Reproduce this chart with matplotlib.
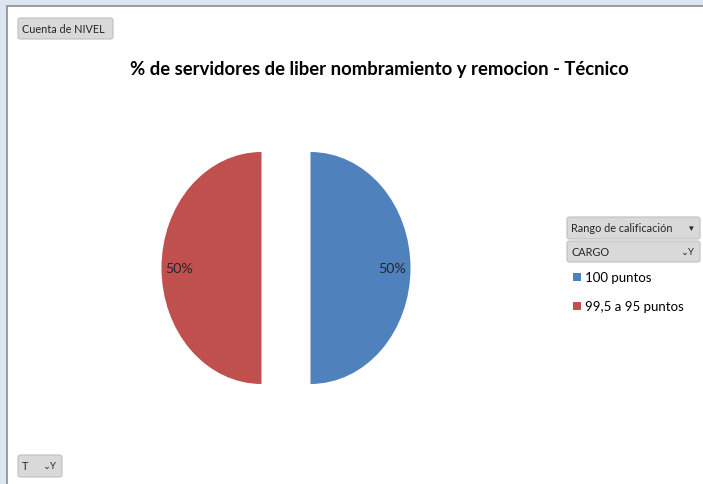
import matplotlib
matplotlib.use("Agg")
import matplotlib.pyplot as plt
from matplotlib.patches import FancyBboxPatch, Rectangle

categories = ["100 puntos", "99,5 a 95 puntos"]
values = [1, 1]
colors = ["#4F81BD", "#C0504D"]
title = "% de servidores de liber nombramiento y remocion - Técnico"

W, H = 703, 485
fig = plt.figure(figsize=(W / 100, H / 100), dpi=100)
fig.patch.set_facecolor("#DCE6F2")

def px(x, y):
    return x / W, 1 - y / H

# white chart area
fig.patches.append(Rectangle(px(7, H + 5), (W + 10) / W, (H - 2) / H,
                             transform=fig.transFigure, facecolor="white",
                             edgecolor="#8C8C8C", linewidth=1.2, zorder=-5))

FONT = ["Lato", "DejaVu Sans"]

# title
fig.text(*px(379, 70), title, ha="center", va="center", fontsize=13.3,
         fontweight="bold", family=FONT, color="#000000")

# pie axes: 100 px per unit horizontally, 116 px per unit vertically
cx, cy = 286, 269
lim = 1.3
aw, ah = 2 * lim * 100, 2 * lim * 116
ax = fig.add_axes([(cx - aw / 2) / W, (H - cy - ah / 2) / H, aw / W, ah / H])
ax.set_zorder(5)
ax.patch.set_alpha(0)
wedges, texts, autotexts = ax.pie(values, colors=colors, startangle=90,
                                  counterclock=False, explode=[0.245, 0.245],
                                  autopct="%1.0f%%", pctdistance=0.82,
                                  wedgeprops=dict(linewidth=0))
for t in autotexts:
    t.set_fontsize(10.3)
    t.set_family(FONT)
    t.set_color("#262626")
ax.set_aspect("auto")
ax.set_xlim(-lim, lim)
ax.set_ylim(-lim, lim)
ax.axis("off")

def button(x0, y0, x1, y1, label, fs=7.8, icon=None):
    box = FancyBboxPatch(px(x0, y1), (x1 - x0) / W, (y1 - y0) / H,
                         boxstyle="round,pad=0,rounding_size=0.004",
                         transform=fig.transFigure, facecolor="#D9D9D9",
                         edgecolor="#BFBFBF", linewidth=0.8, zorder=2)
    fig.patches.append(box)
    fig.text(*px(x0 + 4, (y0 + y1) / 2), label, ha="left", va="center",
             fontsize=fs, family=FONT, color="#262626", zorder=3)
    if icon:
        fig.text(*px(x1 - 6, (y0 + y1) / 2), icon, ha="right", va="center",
                 fontsize=fs - 1, family=FONT, color="#262626", zorder=3)

button(18, 19, 113, 40, "Cuenta de NIVEL")
button(567, 218, 700, 240, "Rango de calificación", icon="▾")
button(567, 242, 700, 263, "CARGO", icon="⌄Y")
button(18, 456, 62, 478, "T", icon="⌄Y")

# legend
leg_y = [278, 307]
for c, lab, y in zip(colors, categories, leg_y):
    fig.patches.append(Rectangle(px(573, y + 4), 8 / W, 8 / H,
                                 transform=fig.transFigure, facecolor=c,
                                 edgecolor="none", zorder=2))
    fig.text(*px(585, y), lab, ha="left", va="center", fontsize=9.5,
             family=FONT, color="#000000")

fig.savefig("out.png", dpi=100, facecolor=fig.get_facecolor())
